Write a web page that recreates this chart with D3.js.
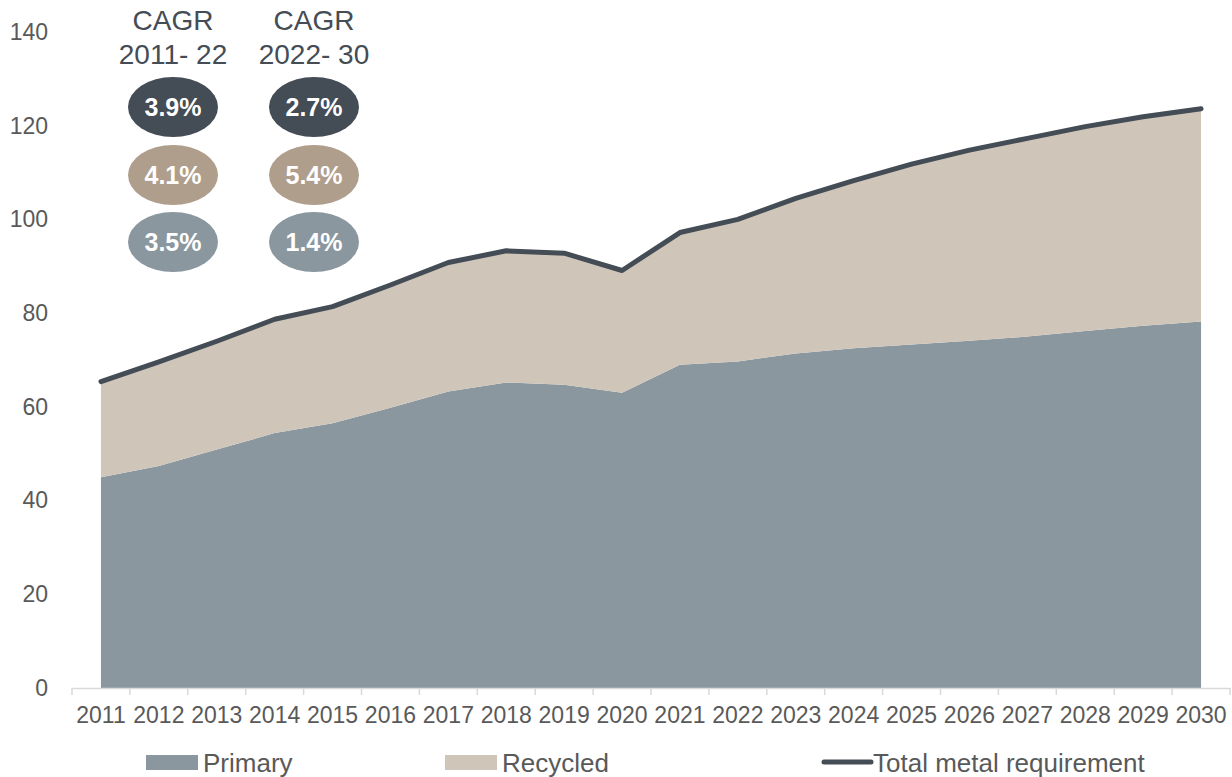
<!DOCTYPE html>
<html>
<head>
<meta charset="utf-8">
<script src="https://cdn.jsdelivr.net/npm/d3@7"></script>
<style>
  body { margin: 0; background: #fff; }
  svg text { font-family: "Liberation Sans", Arial, sans-serif; }
</style>
</head>
<body>
<div id="chart"></div>
<script>
const years = ['2011','2012','2013','2014','2015','2016','2017','2018','2019','2020',
               '2021','2022','2023','2024','2025','2026','2027','2028','2029','2030']
const primary  = [45.0, 47.4, 50.9, 54.4, 56.5, 59.8, 63.3, 65.2, 64.7, 63.0,
                  69.0, 69.7, 71.4, 72.5, 73.3, 74.1, 75.0, 76.2, 77.3, 78.2]
const recycled = [20.4, 22.2, 23.1, 24.3, 24.9, 26.2, 27.5, 28.1, 28.1, 26.1,
                  28.2, 30.3, 33.1, 35.8, 38.5, 40.7, 42.3, 43.6, 44.6, 45.4]
const yTicks = [0, 20, 40, 60, 80, 100, 120, 140]

const cagrPeriods  = ['2011- 22', '2022- 30']
const cagrTotal    = ['3.9%', '2.7%']
const cagrRecycled = ['4.1%', '5.4%']
const cagrPrimary  = ['3.5%', '1.4%']

const colors = { primary: '#8a979f', recycled: '#cfc5b8', total: '#444c55',
                 tan: '#b09e8c', text: '#595959' }

const width = 1232, height = 777

const svg = d3.select('#chart')
  .append('svg')
    .attr('width', width)
    .attr('height', height)

const x = d3.scaleBand().domain(years).range([72, 1230])
const y = d3.scaleLinear().domain([0, 140]).range([688, 32])
const cx = d => x(d) + x.bandwidth() / 2

const data = years.map((yr, i) => ({ year: yr, primary: primary[i], recycled: recycled[i] }))
const series = d3.stack().keys(['primary', 'recycled'])(data)

const area = d3.area()
  .x(d => cx(d.data.year))
  .y0(d => y(d[0]))
  .y1(d => y(d[1]))

svg.append('g')
  .selectAll('path')
  .data(series)
  .join('path')
    .attr('d', area)
    .attr('fill', d => colors[d.key])

// total line
const line = d3.line()
  .x(d => cx(d.year))
  .y(d => y(d.primary + d.recycled))

svg.append('path')
  .datum(data)
  .attr('d', line)
  .attr('fill', 'none')
  .attr('stroke', colors.total)
  .attr('stroke-width', 5)
  .attr('stroke-linecap', 'round')
  .attr('stroke-linejoin', 'round')

// x axis
const xAxis = d3.axisBottom(x).tickSize(0).tickPadding(19)
const xG = svg.append('g')
  .attr('transform', `translate(0, ${y(0)})`)
  .call(xAxis)
xG.select('.domain').attr('stroke', '#d9d9d9').attr('stroke-width', 1.5)
xG.selectAll('text')
  .attr('fill', colors.text)
  .style('font-size', '23px')
xG.selectAll('.sep')
  .data(years.concat(['end']))
  .join('line')
    .attr('class', 'sep')
    .attr('x1', d => d === 'end' ? x.range()[1] : x(d))
    .attr('x2', d => d === 'end' ? x.range()[1] : x(d))
    .attr('y1', 0)
    .attr('y2', 7)
    .attr('stroke', '#d9d9d9')
    .attr('stroke-width', 1.5)

// y axis labels only
const yAxis = d3.axisLeft(y).tickValues(yTicks).tickSize(0).tickPadding(0)
const yG = svg.append('g')
  .attr('transform', 'translate(48, 0)')
  .call(yAxis)
yG.select('.domain').remove()
yG.selectAll('text')
  .attr('fill', colors.text)
  .style('font-size', '23px')

// CAGR header and bubbles
const colX = d3.scalePoint().domain(cagrPeriods).range([173, 314])

const head = svg.append('g')
head.selectAll('text.cagr')
  .data(cagrPeriods)
  .join('text')
    .attr('class', 'cagr')
    .attr('x', d => colX(d))
    .attr('y', 30)
    .attr('text-anchor', 'middle')
    .attr('fill', colors.total)
    .style('font-size', '28px')
    .text('CAGR')
head.selectAll('text.period')
  .data(cagrPeriods)
  .join('text')
    .attr('class', 'period')
    .attr('x', d => colX(d))
    .attr('y', 64)
    .attr('text-anchor', 'middle')
    .attr('fill', colors.total)
    .style('font-size', '28px')
    .text(d => d)

const rows = [
  { vals: cagrTotal, fill: colors.total, cy: 107 },
  { vals: cagrRecycled, fill: colors.tan, cy: 175 },
  { vals: cagrPrimary, fill: colors.primary, cy: 242 }
]

rows.forEach(row => {
  const g = svg.append('g')
  const items = cagrPeriods.map((p, i) => ({ p: p, v: row.vals[i] }))
  g.selectAll('ellipse')
    .data(items)
    .join('ellipse')
      .attr('cx', d => colX(d.p))
      .attr('cy', row.cy)
      .attr('rx', 45)
      .attr('ry', 30)
      .attr('fill', row.fill)
  g.selectAll('text')
    .data(items)
    .join('text')
      .attr('x', d => colX(d.p))
      .attr('y', row.cy + 9)
      .attr('text-anchor', 'middle')
      .attr('fill', '#fff')
      .style('font-size', '25px')
      .style('font-weight', 'bold')
      .text(d => d.v)
})

// legend
const legend = svg.append('g')
legend.append('rect').attr('x', 146).attr('y', 755).attr('width', 52).attr('height', 15).attr('fill', colors.primary)
legend.append('text').attr('x', 203).attr('y', 772).attr('fill', colors.text).style('font-size', '26px').text('Primary')
legend.append('rect').attr('x', 445).attr('y', 755).attr('width', 52).attr('height', 15).attr('fill', colors.recycled)
legend.append('text').attr('x', 502).attr('y', 772).attr('fill', colors.text).style('font-size', '26px').text('Recycled')
legend.append('line').attr('x1', 824).attr('x2', 871).attr('y1', 762).attr('y2', 762)
  .attr('stroke', colors.total).attr('stroke-width', 5).attr('stroke-linecap', 'round')
legend.append('text').attr('x', 873).attr('y', 772).attr('fill', colors.text).style('font-size', '26px').text('Total metal requirement')
</script>
</body>
</html>
